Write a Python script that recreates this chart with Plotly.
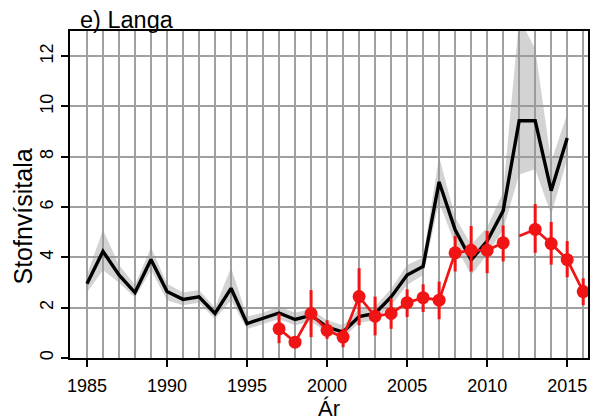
import plotly.graph_objects as go

# ---- data ----
years_index = list(range(1985, 2016))
index_mid = [2.95, 4.24, 3.30, 2.60, 3.92, 2.64, 2.33, 2.43, 1.77, 2.77,
             1.37, 1.57, 1.79, 1.53, 1.70, 1.23, 1.03, 1.65, 1.77, 2.43,
             3.30, 3.64, 7.00, 5.10, 3.90, 4.65, 5.85, 9.43, 9.43, 6.65, 8.75]
index_lo = [2.60, 3.50, 3.00, 2.40, 3.50, 2.30, 2.10, 2.20, 1.55, 2.30,
            1.15, 1.35, 1.55, 1.30, 1.45, 1.00, 0.80, 1.40, 1.50, 2.10,
            2.90, 3.30, 6.20, 4.50, 3.30, 4.10, 5.10, 7.30, 7.50, 5.70, 7.90]
index_hi = [3.30, 5.10, 3.70, 2.90, 4.40, 2.95, 2.60, 2.70, 2.00, 3.60,
            1.65, 1.80, 2.05, 1.80, 1.95, 1.50, 1.30, 1.95, 2.05, 2.75,
            3.70, 4.00, 8.00, 5.60, 4.50, 5.20, 6.60, 13.50, 12.30, 7.80, 9.70]

years_survey = list(range(1997, 2017))
survey_val = [1.16, 0.63, 1.77, 1.10, 0.83, 2.44, 1.66, 1.77, 2.20, 2.40,
              2.30, 4.18, 4.28, 4.28, 4.58, 4.85, 5.11, 4.55, 3.91, 2.64]
survey_lo = [0.59, 0.55, 0.83, 0.76, 0.43, 1.30, 0.90, 1.16, 1.63, 1.83,
             1.54, 3.44, 3.44, 3.37, 3.84, 4.85, 4.18, 3.71, 3.21, 2.10]
survey_hi = [1.77, 0.75, 2.70, 1.50, 1.16, 3.57, 2.44, 2.37, 2.73, 2.93,
             3.04, 4.85, 5.25, 5.05, 5.27, 4.85, 6.12, 5.41, 4.65, 3.17]
survey_marker = [True] * 15 + [False] + [True] * 4
survey_break_after = 2011

x_ticks = [1985, 1990, 1995, 2000, 2005, 2010, 2015]
y_ticks = [0, 2, 4, 6, 8, 10, 12]

title_text = "e) Langa"
x_label = "Ár"
y_label = "Stofnvísitala"

# ---- styles ----
FONT = "Liberation Sans, Arial, Helvetica, sans-serif"
GRID = "#a0a0a0"
RED = "#f01414"

fig = go.Figure()

# ribbon
fig.add_trace(go.Scatter(x=years_index, y=index_lo, mode="lines",
                         line=dict(width=0), hoverinfo="skip", showlegend=False))
fig.add_trace(go.Scatter(x=years_index, y=index_hi, mode="lines",
                         line=dict(width=0), fill="tonexty",
                         fillcolor="rgba(150,150,150,0.42)",
                         hoverinfo="skip", showlegend=False))
# black index line
fig.add_trace(go.Scatter(x=years_index, y=index_mid, mode="lines",
                         line=dict(color="black", width=3.4), showlegend=False))

# red line with a break
lx, ly = [], []
for yr, v in zip(years_survey, survey_val):
    lx.append(yr)
    ly.append(v)
    if yr == survey_break_after:
        lx.append(None)
        ly.append(None)
fig.add_trace(go.Scatter(x=lx, y=ly, mode="lines",
                         line=dict(color=RED, width=2.7), showlegend=False))

# red points + error bars
px = [yr for yr, m in zip(years_survey, survey_marker) if m]
py = [v for v, m in zip(survey_val, survey_marker) if m]
pp = [h - v for v, h, m in zip(survey_val, survey_hi, survey_marker) if m]
pm = [v - l for v, l, m in zip(survey_val, survey_lo, survey_marker) if m]
fig.add_trace(go.Scatter(x=px, y=py, mode="markers",
                         marker=dict(color=RED, size=13, line=dict(width=0)),
                         error_y=dict(type="data", symmetric=False, array=pp,
                                      arrayminus=pm, color=RED, thickness=3,
                                      width=0),
                         showlegend=False))

fig.update_layout(
    width=591, height=420, autosize=False,
    margin=dict(l=70, r=1, t=31, b=62, pad=0),
    plot_bgcolor="white", paper_bgcolor="white",
    font=dict(family=FONT, color="black", size=18),
    showlegend=False,
)
fig.update_xaxes(
    range=[1983.94, 2016.3], tickmode="array", tickvals=x_ticks,
    ticktext=[str(t) for t in x_ticks],
    ticks="outside", ticklen=7, tickwidth=1.5, tickcolor="black",
    ticklabelstandoff=3,
    showline=True, linecolor="black", linewidth=2, mirror=True,
    showgrid=True, gridcolor=GRID, gridwidth=2, zeroline=False,
    minor=dict(tickmode="linear", tick0=1985, dtick=1, showgrid=True,
               gridcolor=GRID, gridwidth=2, ticks=""),
    tickfont=dict(size=18),
)
fig.update_yaxes(
    range=[0, 13], tickmode="array", tickvals=y_ticks,
    ticktext=[str(t) for t in y_ticks], tickangle=-90,
    ticks="outside", ticklen=7, tickwidth=1.5, tickcolor="black",
    ticklabelstandoff=1,
    showline=True, linecolor="black", linewidth=2, mirror=True,
    showgrid=True, gridcolor=GRID, gridwidth=2, zeroline=False,
    tickfont=dict(size=18),
)

fig.add_annotation(text=title_text, xref="paper", yref="paper",
                   x=0.016, y=1, xanchor="left", yanchor="bottom",
                   yshift=-4, showarrow=False, font=dict(size=23.5))
fig.add_annotation(text=x_label, xref="paper", yref="paper",
                   x=0.5, y=0, xanchor="center", yanchor="middle",
                   yshift=-50, showarrow=False, font=dict(size=22))
fig.add_annotation(text=y_label, xref="paper", yref="paper",
                   x=0, y=0.5, xanchor="center", yanchor="middle",
                   xshift=-48, yshift=-22, textangle=-90, showarrow=False,
                   font=dict(size=25))

fig.write_html("out.html",
               config={"displayModeBar": False},
               post_script="document.body.style.margin='0';document.body.style.overflow='hidden';")
